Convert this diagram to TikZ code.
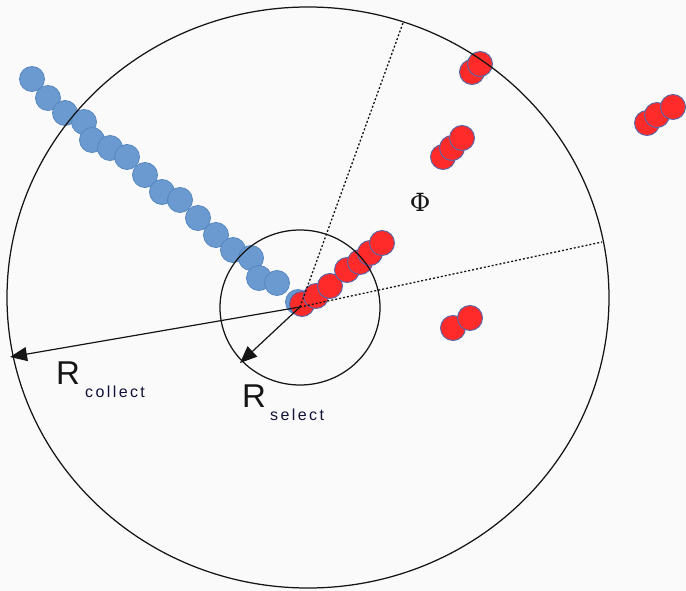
\documentclass[tikz,border=0pt]{standalone}
\usepackage{fontspec}
\setmainfont{Liberation Sans}
\newfontfamily\phifont{DejaVu Serif}
\newfontfamily\subfont[LetterSpace=15]{Liberation Sans}
\usetikzlibrary{arrows.meta}
\definecolor{bg}{HTML}{FAFAFA}
\definecolor{bluefill}{HTML}{6A9AD0}
\definecolor{blueedge}{HTML}{5586C0}
\definecolor{redfill}{HTML}{FF2B2B}
\definecolor{rededge}{HTML}{5565A8}
\definecolor{ink}{HTML}{151515}
\tikzset{
  bdot/.style={circle, minimum size=25pt, inner sep=0pt, fill=bluefill, draw=blueedge, line width=0.8pt},
  rdot/.style={circle, minimum size=25pt, inner sep=0pt, fill=redfill, draw=rededge, line width=0.9pt},
  ring/.style={draw=ink, line width=1.25pt},
  dotline/.style={draw=ink, line width=1.3pt, dash pattern=on 2pt off 2pt},
  arr/.style={draw=ink, line width=1.2pt, -{Triangle[length=17pt,width=14pt]}},
  bigR/.style={inner sep=0pt, anchor=base west, font=\fontsize{33}{33}\selectfont, text=ink},
  subR/.style={inner sep=0pt, anchor=base west, font=\subfont\fontsize{16}{16}\selectfont, text=ink!85!blue}
}
\begin{document}
\begin{tikzpicture}[x=1pt,y=-1pt]
\useasboundingbox (0,0) rectangle (686,591);
\fill[bg] (0,0) rectangle (686,591);
% blue dots
\foreach \p [count=\i] in {(32,79),(48,98),(65,113),(84,122),(92,140),(110,148),(127,157),(145,175),(162,192),(180,200),(198,218),(216,235),(233,250),(251,258),(259,278),(277,283),(298,302)}
  \node[bdot] (b\i) at \p {};
% red dots
\foreach \p [count=\i] in {(302,304),(316,296),(330,286),(347,270),(360,262),(370,253),(382,243),
  (472,72),(480,64),(443,157),(452,148),(462,138),(453,328),(470,318),(647,123),(657,115),(673,107)}
  \node[rdot] (r\i) at \p {};
% geometry
\coordinate (O) at (300,307);
\coordinate (Tc) at (10,357);
\coordinate (Ts) at (240,363);
\coordinate (Up) at (403,23);
\coordinate (Rt) at (602,242);
\draw[ring] (308,297.5) ellipse [x radius=301pt, y radius=290.5pt];
\draw[ring] (300,307.5) ellipse [x radius=80pt, y radius=77.5pt];
\draw[dotline] (O) -- (Up);
\draw[dotline] (O) -- (Rt);
\draw[arr] (O) -- (Tc);
\draw[arr] (O) -- (Ts);
% labels
\node[bigR] (Rc) at (56,384) {R};
\node[subR] (Rcs) at (85,397) {collect};
\node[bigR] (Rs) at (242,407) {R};
\node[subR] (Rss) at (270,420) {select};
\node[inner sep=0pt, font=\phifont\fontsize{25}{25}\selectfont, text=ink] (phi) at (420,202) {Φ};
\end{tikzpicture}
\end{document}
